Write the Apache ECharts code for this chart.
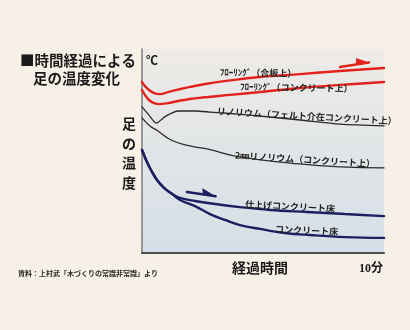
<!DOCTYPE html>
<html>
<head>
<meta charset="utf-8">
<script src="https://cdn.jsdelivr.net/npm/echarts@6/dist/echarts.min.js"></script>
<style>
  html, body { margin: 0; padding: 0; background: #f6f0e7; }
  #chart { width: 410px; height: 330px; }
</style>
</head>
<body>
<div id="chart"></div>
<script>
// Foot temperature over elapsed time for each floor type.
// Each point: [elapsed minutes, relative temperature index]
const plywoodFlooring = [[0,83.8],[0.12,81.9],[0.29,79.9],[0.5,78.4],[0.74,77.9],[1.07,78.9],[1.49,80.1],[1.98,81.4],[2.73,83.1],[3.64,84.6],[4.88,86.3],[6.53,87.7],[8.18,89.2],[10,90.7]];
const concreteFlooring = [[0,79.9],[0.12,77.5],[0.29,75.0],[0.5,73.5],[0.74,73.0],[1.07,73.5],[1.49,74.5],[1.98,75.5],[2.73,76.5],[3.64,77.5],[4.88,78.9],[6.53,80.9],[8.18,82.4],[10,83.8]];
const feltLinoleum = [[0,71.6],[0.29,67.6],[0.58,63.7],[1.0,67.2],[1.49,69.6],[2.19,69.6],[2.81,69.1],[4.46,67.6],[6.53,65.2],[8.18,63.2],[10,62.3]];
const thinLinoleum = [[0,66.2],[0.33,62.3],[0.66,59.8],[1.2,55.4],[1.98,52.5],[2.69,51.0],[4.05,47.1],[6.12,44.1],[8.18,42.2],[10,41.7]];
const finishedConcrete = [[0,50.5],[0.17,45.6],[0.37,40.7],[0.62,35.8],[0.91,31.9],[1.24,29.0],[1.57,27.0],[2.19,25.5],[3.02,24.0],[4.05,22.5],[5.29,21.1],[6.82,20.1],[8.39,19.1],[10,18.1]];
const bareConcrete = [[0,50.5],[0.17,45.6],[0.37,40.7],[0.62,35.8],[0.91,31.9],[1.24,29.0],[1.57,26.0],[2.19,23.0],[2.81,19.1],[3.43,16.2],[4.05,13.7],[4.88,11.8],[5.91,9.8],[6.94,8.8],[8.39,7.8],[10,7.4]];

const floorNames = [
  'ﾌﾛｰﾘﾝｸﾞ（合板上）',
  'ﾌﾛｰﾘﾝｸﾞ（コンクリート上）',
  'リノリウム（フェルト介在コンクリート上）',
  '2㎜リノリウム（コンクリート上）',
  '仕上げコンクリート床',
  'コンクリート床'
];
const xMin = 0, xMax = 10;          // minutes
const xEndLabel = '10分';
const xAxisTitle = '経過時間';
const yAxisTitle = '足の温度';
const yUnit = '℃';
const titleLines = ['■時間経過による', '足の温度変化'];
const sourceNote = '資料：上村武「木づくりの常識非常識」より';

const CJK = '"Noto Sans CJK JP", "Noto Sans", sans-serif';
const RED = '#e2231d', BLACK = '#2b2b2b', NAVY = '#1c2060';

const chart = echarts.init(document.getElementById('chart'), null, { renderer: 'canvas' });

function lineSeries(name, data, color, width, smooth) {
  return {
    name, type: 'line', data, smooth, showSymbol: false, silent: true,
    lineStyle: { color, width, cap: 'round' }, z: 3
  };
}

chart.setOption({
  animation: false,
  backgroundColor: '#f6f0e7',
  grid: {
    left: 142, top: 49, width: 242, height: 204,
    show: true, borderWidth: 0,
    backgroundColor: new echarts.graphic.LinearGradient(0, 0, 0, 1, [
      { offset: 0, color: '#eeebe7' },
      { offset: 1, color: '#d5dfe7' }
    ])
  },
  xAxis: {
    type: 'value', min: xMin, max: xMax,
    axisLine: { show: true, onZero: false, lineStyle: { color: '#4d4d4d', width: 2 } },
    axisTick: { show: false }, axisLabel: { show: false }, splitLine: { show: false }
  },
  yAxis: {
    type: 'value', min: 0, max: 100,
    axisLine: { show: true, onZero: false, lineStyle: { color: '#7d7d7d', width: 1.5 } },
    axisTick: { show: false }, axisLabel: { show: false }, splitLine: { show: false }
  },
  series: [
    lineSeries(floorNames[0], plywoodFlooring, RED, 2.4, 0.4),
    lineSeries(floorNames[1], concreteFlooring, RED, 2.4, 0.4),
    lineSeries(floorNames[2], feltLinoleum, BLACK, 1.3, 0.25),
    lineSeries(floorNames[3], thinLinoleum, BLACK, 1.3, 0.5),
    lineSeries(floorNames[4], finishedConcrete, NAVY, 2.4, 0.4),
    lineSeries(floorNames[5], bareConcrete, NAVY, 2.4, 0.4)
  ]
});

// Annotations anchored in data space
const px = p => chart.convertToPixel({ gridIndex: 0 }, p);
const deg = d => d * Math.PI / 180;

const curveLabels = [
  { text: floorNames[0], at: [3.22, 88.7], rot: -1.0 },
  { text: floorNames[1], at: [4.05, 81.6], rot: -1.0 },
  { text: floorNames[2], at: [3.10, 69.6], rot: -3.2 },
  { text: floorNames[3], at: [3.84, 48.0], rot: -3.6 },
  { text: floorNames[4], at: [4.26, 24.0], rot: -3.0 },
  { text: floorNames[5], at: [5.50, 11.8], rot: -2.5 }
];

const graphics = [];
curveLabels.forEach(l => {
  const [x, y] = px(l.at);
  graphics.push({
    type: 'text', x, y, rotation: deg(l.rot), z: 10, silent: true,
    style: { text: l.text, fill: '#222', font: `bold 9px ${CJK}`, align: 'left', verticalAlign: 'middle' }
  });
});

// direction arrows with a single upper barb
function arrow(from, to, barb, color, width) {
  const a = px(from), b = px(to), c = px(barb);
  graphics.push({
    type: 'line', silent: true, z: 9,
    shape: { x1: a[0], y1: a[1], x2: b[0], y2: b[1] },
    style: { stroke: color, lineWidth: width, lineCap: 'round' }
  });
  const back = [b[0] + (a[0] - b[0]) * 0.45, b[1] + (a[1] - b[1]) * 0.45];
  graphics.push({
    type: 'polygon', silent: true, z: 9,
    shape: { points: [b, c, back] },
    style: { fill: color }
  });
}
arrow([8.18, 91.2], [9.38, 93.4], [8.85, 95.6], RED, 2.4);
arrow([1.86, 29.9], [3.04, 27.8], [2.5, 31.7], NAVY, 2.6);

// titles and axis names
graphics.push(
  { type: 'text', x: 20, y: 60, silent: true,
    style: { text: titleLines[0], fill: '#1a1a1a', font: `bold 14.5px ${CJK}`, align: 'left', verticalAlign: 'middle' } },
  { type: 'text', x: 33, y: 78, silent: true,
    style: { text: titleLines[1], fill: '#1a1a1a', font: `bold 14.5px ${CJK}`, align: 'left', verticalAlign: 'middle' } },
  { type: 'text', x: 146, y: 60, silent: true,
    style: { text: yUnit, fill: '#1a1a1a', font: `bold 12px ${CJK}`, align: 'left', verticalAlign: 'middle' } },
  { type: 'text', x: 260, y: 268, silent: true,
    style: { text: xAxisTitle, fill: '#1a1a1a', font: `bold 14px ${CJK}`, align: 'center', verticalAlign: 'middle' } },
  { type: 'text', x: 383, y: 268.5, silent: true,
    style: { text: xEndLabel, fill: '#1a1a1a', font: `bold 12px "Liberation Serif", ${CJK}`, align: 'right', verticalAlign: 'middle' } },
  { type: 'text', x: 18, y: 273.5, silent: true,
    style: { text: sourceNote, fill: '#2a2a2a', font: `bold 7px ${CJK}`, align: 'left', verticalAlign: 'middle' } }
);
yAxisTitle.split('').forEach((ch, i) => {
  graphics.push({ type: 'text', x: 129, y: 124 + i * 19.5, silent: true,
    style: { text: ch, fill: '#1a1a1a', font: `bold 14px ${CJK}`, align: 'center', verticalAlign: 'middle' } });
});

chart.setOption({ graphic: { elements: graphics } });
</script>
</body>
</html>
